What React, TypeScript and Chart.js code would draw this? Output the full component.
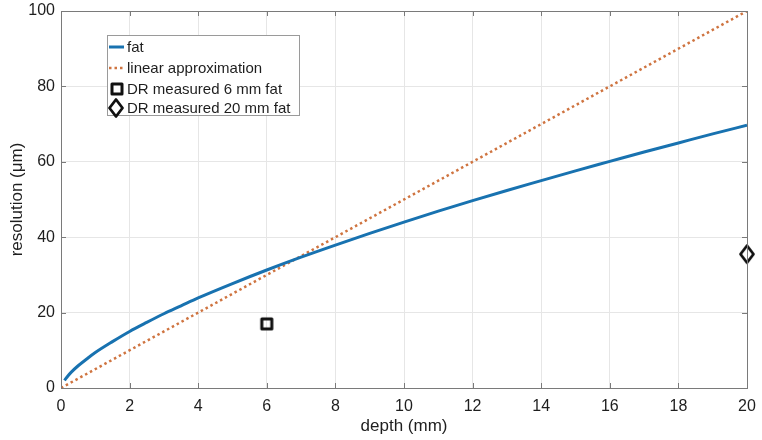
import React, { useEffect, useRef } from 'react';
import { Chart, registerables } from 'chart.js';

Chart.register(...registerables);

// ---- data ----
const depthMm = [0.1, 0.2, 0.3, 0.5, 0.75, 1, 1.5, 2, 2.5, 3, 3.5, 4, 5, 6, 7, 8, 9, 10, 11, 12, 13, 14, 15, 16, 17, 18, 19, 20];
const fatResolution = [2.0, 3.2, 4.2, 5.9, 7.7, 9.4, 12.3, 15.0, 17.4, 19.7, 21.8, 23.9, 27.7, 31.3, 34.7, 37.9, 41.0, 44.0, 46.9, 49.7, 52.4, 55.0, 57.6, 60.1, 62.6, 65.0, 67.4, 69.7];
const linearDepth = [0, 20];
const linearResolution = [0, 100];
const dr6Depth = [6];
const dr6Resolution = [17];
const dr20Depth = [20];
const dr20Resolution = [35.5];
const xTicks = [0, 2, 4, 6, 8, 10, 12, 14, 16, 18, 20];
const yTicks = [0, 20, 40, 60, 80, 100];
const seriesLabels = ['fat', 'linear approximation', 'DR measured 6 mm fat', 'DR measured 20 mm fat'];
const xTitle = 'depth (mm)';
const yTitle = 'resolution (\u03bcm)';

const BLUE = '#1872b0';
const ORANGE = '#cf7440';
const AXIS = '#7a7a7a';
const GRID = '#e6e6e6';
const TEXT = '#1e1e1e';
const FONT = "'Liberation Sans', Arial, Helvetica, sans-serif";

function makeSquare(): HTMLCanvasElement {
  const c = document.createElement('canvas');
  c.width = 16; c.height = 16;
  const g = c.getContext('2d')!;
  g.strokeStyle = '#111';
  g.lineWidth = 3;
  g.lineJoin = 'round';
  g.strokeRect(3, 3, 10, 10);
  return c;
}

function makeDiamond(): HTMLCanvasElement {
  const c = document.createElement('canvas');
  c.width = 18; c.height = 22;
  const g = c.getContext('2d')!;
  g.strokeStyle = '#111';
  g.lineWidth = 2.8;
  g.lineJoin = 'round';
  g.beginPath();
  g.moveTo(9, 2.5);
  g.lineTo(15.5, 11);
  g.lineTo(9, 19.5);
  g.lineTo(2.5, 11);
  g.closePath();
  g.stroke();
  return c;
}

export default function App() {
  const ref = useRef<HTMLCanvasElement | null>(null);

  useEffect(() => {
    document.body.style.margin = '0';
    const canvas = ref.current;
    if (!canvas) return;
    const square = makeSquare();
    const diamond = makeDiamond();

    const framePlugin = {
      id: 'frame',
      afterDatasetsDraw(chart: any) {
        const { ctx, chartArea: a, scales } = chart;
        const xs = scales.x, ys = scales.y;
        ctx.save();
        // inward ticks
        ctx.strokeStyle = AXIS;
        ctx.lineWidth = 1;
        ctx.beginPath();
        xTicks.forEach((t) => {
          const px = Math.round(xs.getPixelForValue(t)) + 0.5;
          ctx.moveTo(px, a.bottom); ctx.lineTo(px, a.bottom - 5);
          ctx.moveTo(px, a.top); ctx.lineTo(px, a.top + 5);
        });
        yTicks.forEach((t) => {
          const py = Math.round(ys.getPixelForValue(t)) + 0.5;
          ctx.moveTo(a.left, py); ctx.lineTo(a.left + 5, py);
          ctx.moveTo(a.right, py); ctx.lineTo(a.right - 5, py);
        });
        ctx.stroke();
        // box
        ctx.strokeRect(Math.round(a.left) + 0.5, Math.round(a.top) + 0.5, Math.round(a.right - a.left), Math.round(a.bottom - a.top));

        // legend
        const lx = 107, ly = 35, lw = 192, lh = 80;
        ctx.fillStyle = '#ffffff';
        ctx.fillRect(lx, ly, lw, lh);
        ctx.strokeStyle = '#9a9a9a';
        ctx.lineWidth = 1;
        ctx.strokeRect(lx + 0.5, ly + 0.5, lw, lh);
        const rows = [47, 68, 89, 108];
        // fat line swatch
        ctx.strokeStyle = BLUE;
        ctx.lineWidth = 3;
        ctx.beginPath(); ctx.moveTo(109, rows[0]); ctx.lineTo(124, rows[0]); ctx.stroke();
        // dotted swatch
        ctx.strokeStyle = ORANGE;
        ctx.lineWidth = 2.5;
        ctx.setLineDash([2.5, 3]);
        ctx.beginPath(); ctx.moveTo(109, rows[1]); ctx.lineTo(125, rows[1]); ctx.stroke();
        ctx.setLineDash([]);
        ctx.drawImage(square, 117 - 8, rows[2] - 8);
        ctx.drawImage(diamond, 116 - 9, rows[3] - 11);
        ctx.fillStyle = TEXT;
        ctx.font = `15px ${FONT}`;
        ctx.textBaseline = 'middle';
        ctx.textAlign = 'left';
        seriesLabels.forEach((s, i) => ctx.fillText(s, 127, rows[i] + 1));
        ctx.restore();
      },
    };

    const chart = new Chart(canvas, {
      type: 'scatter',
      data: {
        datasets: [
          {
            label: seriesLabels[0],
            data: depthMm.map((x, i) => ({ x, y: fatResolution[i] })),
            showLine: true,
            borderColor: BLUE,
            borderWidth: 3,
            pointRadius: 0,
            cubicInterpolationMode: 'monotone',
            fill: false,
          },
          {
            label: seriesLabels[1],
            data: linearDepth.map((x, i) => ({ x, y: linearResolution[i] })),
            showLine: true,
            borderColor: ORANGE,
            borderWidth: 2.5,
            borderDash: [2.5, 3],
            pointRadius: 0,
            fill: false,
          },
          {
            label: seriesLabels[2],
            data: dr6Depth.map((x, i) => ({ x, y: dr6Resolution[i] })),
            pointStyle: square as any,
            pointRadius: 8,
            showLine: false,
            clip: false as any,
          },
          {
            label: seriesLabels[3],
            data: dr20Depth.map((x, i) => ({ x, y: dr20Resolution[i] })),
            pointStyle: diamond as any,
            pointRadius: 10,
            showLine: false,
            clip: false as any,
          },
        ],
      },
      options: {
        animation: false,
        responsive: false,
        maintainAspectRatio: false,
        layout: { padding: { top: 10, right: 15, left: 0, bottom: 0 } },
        plugins: { legend: { display: false }, tooltip: { enabled: false } },
        scales: {
          x: {
            type: 'linear',
            min: 0,
            max: 20,
            afterBuildTicks: (s: any) => { s.ticks = xTicks.map((v) => ({ value: v })); },
            afterFit: (s: any) => { s.height = 52; s.paddingLeft = 0; s.paddingRight = 0; },
            ticks: { color: TEXT, font: { size: 16, family: FONT }, padding: 9, maxRotation: 0 },
            grid: { color: GRID, drawTicks: false },
            border: { display: true, color: AXIS },
            title: { display: true, text: xTitle, color: TEXT, font: { size: 17, family: FONT }, padding: { top: 0, bottom: 3 } },
          },
          y: {
            type: 'linear',
            min: 0,
            max: 100,
            afterBuildTicks: (s: any) => { s.ticks = yTicks.map((v) => ({ value: v })); },
            afterFit: (s: any) => { s.width = 61; s.paddingTop = 0; s.paddingBottom = 0; },
            ticks: { color: TEXT, font: { size: 16, family: FONT }, padding: 6 },
            grid: { color: GRID, drawTicks: false },
            border: { display: true, color: AXIS },
            title: { display: true, text: yTitle, color: TEXT, font: { size: 17, family: FONT }, padding: { top: 7, bottom: 0 } },
          },
        },
      } as any,
      plugins: [framePlugin],
    });
    return () => chart.destroy();
  }, []);

  return (
    <div style={{ width: 762, height: 440, background: '#fff' }}>
      <canvas ref={ref} width={762} height={440} style={{ display: 'block' }} />
    </div>
  );
}
